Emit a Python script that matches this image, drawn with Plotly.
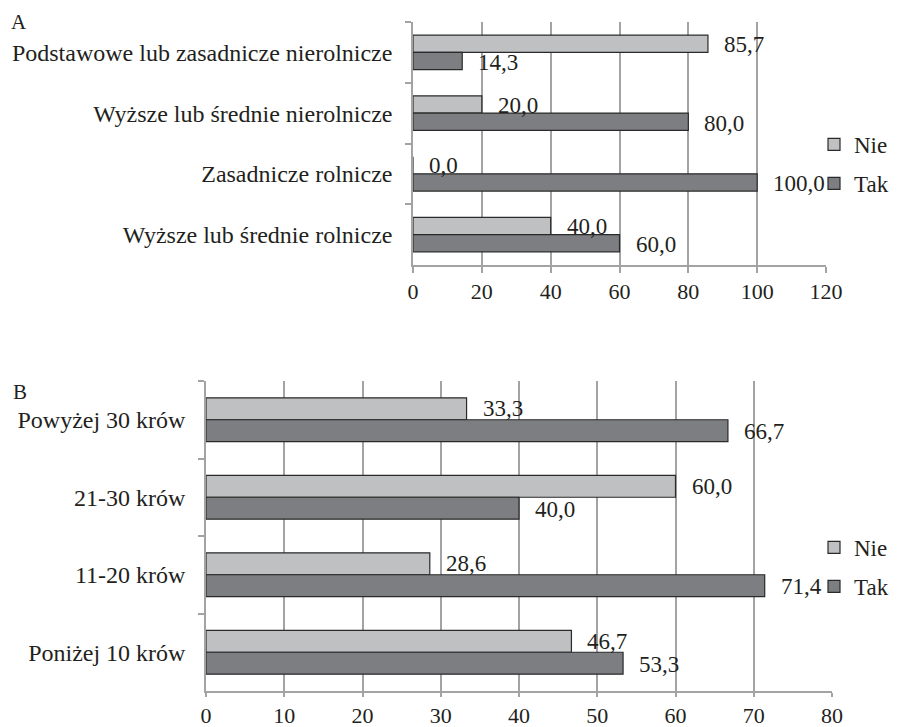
import plotly.graph_objects as go

# Wykres A - wykształcenie
kategorie_a = ['Podstawowe lub zasadnicze nierolnicze', 'Wyższe lub średnie nierolnicze',
               'Zasadnicze rolnicze', 'Wyższe lub średnie rolnicze']
nie_a = [85.7, 20.0, 0.0, 40.0]
tak_a = [14.3, 80.0, 100.0, 60.0]

# Wykres B - wielkość stada
kategorie_b = ['Powyżej 30 krów', '21-30 krów', '11-20 krów', 'Poniżej 10 krów']
nie_b = [33.3, 60.0, 28.6, 46.7]
tak_b = [66.7, 40.0, 71.4, 53.3]

ticks_a = [0, 20, 40, 60, 80, 100, 120]
ticks_b = [0, 10, 20, 30, 40, 50, 60, 70, 80]

FONT = 'Liberation Serif'
TEKST = '#231f20'
KOLOR_NIE = '#bfc0c2'
KOLOR_TAK = '#7d7e81'
SIATKA = '#a3a3a3'

# strona ma margines 8 px, więc figura jest o tyle mniejsza
W, H = 890, 719


def fmt(v):
    return f'{v:.1f}'.replace('.', ',')


def dom_x(a, b):
    return [(a - 8) / W, (b - 8) / W]


def dom_y(gora, dol):
    return [1 - (dol - 8) / H, 1 - (gora - 8) / H]


fig = go.Figure()

for nazwa, kolor, kat, wart, xa, ya, leg in [
    ('Nie', KOLOR_NIE, kategorie_a, nie_a, 'x', 'y', 'legend'),
    ('Tak', KOLOR_TAK, kategorie_a, tak_a, 'x', 'y', 'legend'),
    ('Nie', KOLOR_NIE, kategorie_b, nie_b, 'x2', 'y2', 'legend2'),
    ('Tak', KOLOR_TAK, kategorie_b, tak_b, 'x2', 'y2', 'legend2'),
]:
    fig.add_trace(go.Bar(
        x=wart, y=kat, name=nazwa, orientation='h',
        marker=dict(color=kolor, line=dict(color='#2a2a2a', width=1.2)),
        xaxis=xa, yaxis=ya, legend=leg, legendgroup=leg + nazwa,
        hoverinfo='skip',
    ))

# etykiety danych
for kat, wart, xr, yr, przes in [
    (kategorie_a, nie_a, 'x', 'y', 8), (kategorie_a, tak_a, 'x', 'y', -10),
    (kategorie_b, nie_b, 'x2', 'y2', 11), (kategorie_b, tak_b, 'x2', 'y2', -12),
]:
    for k, v in zip(kat, wart):
        fig.add_annotation(x=v, y=k, xref=xr, yref=yr, text=fmt(v), showarrow=False,
                           xanchor='left', xshift=14, yshift=przes,
                           font=dict(family=FONT, size=23, color=TEKST))

os_x = dict(showgrid=True, gridcolor=SIATKA, gridwidth=1.5, showline=True, linecolor=SIATKA,
            linewidth=1.5, ticks='outside', ticklen=6, tickcolor=SIATKA, tickwidth=1.5,
            zeroline=False, ticklabelstandoff=0, tickfont=dict(family=FONT, size=22, color=TEKST))
os_y = dict(showgrid=False, showline=True, linecolor=SIATKA, linewidth=1.5, ticks='outside',
            ticklen=6, tickcolor=SIATKA, tickwidth=1.5, tickson='boundaries', autorange='reversed',
            ticklabelstandoff=14, tickfont=dict(family=FONT, size=24, color=TEKST))

leg_styl = dict(xanchor='left', yanchor='middle', traceorder='grouped', tracegroupgap=6,
                itemwidth=30, font=dict(family=FONT, size=23, color=TEKST))

fig.update_layout(
    width=W, height=H,
    margin=dict(l=0, r=0, t=0, b=0, autoexpand=False),
    paper_bgcolor='white', plot_bgcolor='white',
    barmode='group', bargap=0.435, bargroupgap=0,
    font=dict(family=FONT, size=22, color=TEKST),
    showlegend=True,
    xaxis=dict(os_x, domain=dom_x(413, 826), range=[0, 120], tickvals=ticks_a, anchor='y'),
    yaxis=dict(os_y, domain=dom_y(22, 265), anchor='x'),
    xaxis2=dict(os_x, domain=dom_x(206, 832), range=[0, 80], tickvals=ticks_b, anchor='y2',
                ticklen=4),
    yaxis2=dict(os_y, domain=dom_y(381, 691), anchor='x2'),
    legend=dict(leg_styl, x=(814 - 8) / W, y=1 - (164 - 8) / H),
    legend2=dict(leg_styl, x=(814 - 8) / W, y=1 - (567 - 8) / H),
)

# litery paneli
fig.add_annotation(text='A', x=0.001, y=1 - 14.5 / H, xref='paper', yref='paper', showarrow=False,
                   xanchor='left', yanchor='middle', font=dict(family=FONT, size=21, color=TEKST))
fig.add_annotation(text='B', x=0.0035, y=1 - 384 / H, xref='paper', yref='paper', showarrow=False,
                   xanchor='left', yanchor='middle', font=dict(family=FONT, size=21, color=TEKST))

fig.write_html('out.html')
